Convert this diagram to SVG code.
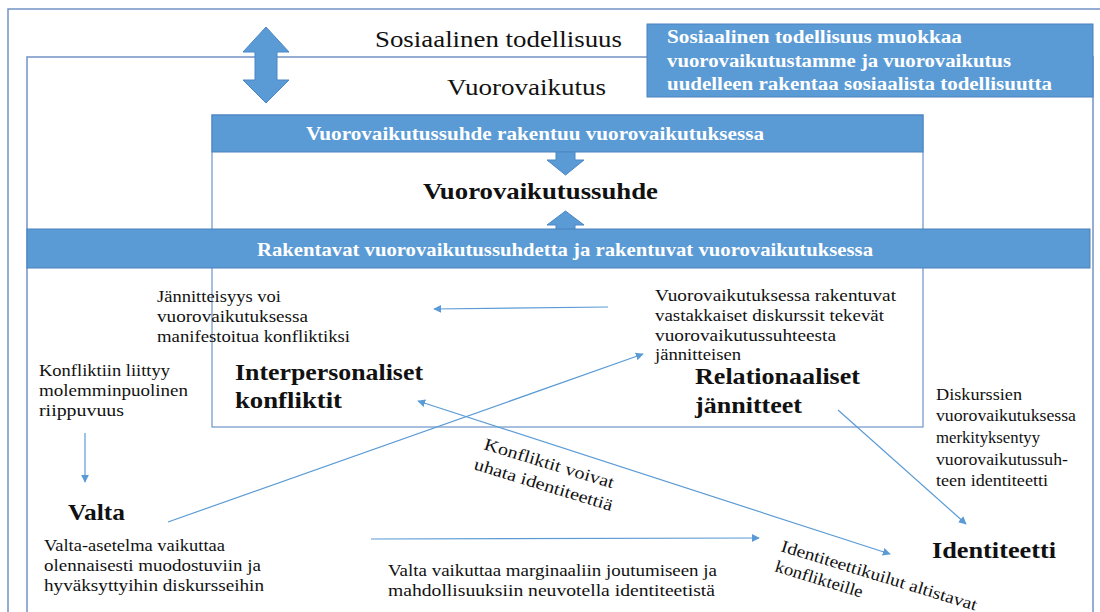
<svg xmlns="http://www.w3.org/2000/svg" width="1100" height="612" viewBox="0 0 1100 612">
<style>
.frame{fill:none;stroke:#7393c4;stroke-width:1.5}
.box{fill:#fff;stroke:#6f93c8;stroke-width:1.2}
.bar{fill:#5b9bd5;stroke:#4a82bd;stroke-width:1}
.blk{fill:#5b9bd5;stroke:#4a86c5;stroke-width:1}
.t{font-family:"Liberation Serif",serif;fill:#111}
.body{font-size:17px}
.big{font-size:23px}
.head{font-size:24px;font-weight:bold}
.wt{font-family:"Liberation Serif",serif;fill:#fff;font-weight:bold}
.conn line{stroke:#5b9bd5;stroke-width:1.2;fill:none}
</style>
<defs>
<marker id="ah" viewBox="0 0 10 10" refX="9" refY="5" markerWidth="8" markerHeight="8" markerUnits="userSpaceOnUse" orient="auto-start-reverse">
<path d="M0,0 L10,5 L0,10 z" fill="#5b9bd5"/>
</marker>
</defs>
<rect width="1100" height="612" fill="#fff"/>

<g id="outer-frame">
<rect class="frame" x="8" y="9" width="1110" height="620"/>
</g>
<g id="vuorovaikutus-frame">
<rect class="frame" x="27" y="57" width="1066" height="600"/>
</g>

<g id="double-arrow">
<polygon class="blk" points="266,27 289,52 277,52 277,80 289,80 266,103 243,80 255,80 255,52 243,52"/>
</g>

<g id="sosiaalinen">
<text class="t big" x="375" y="47" textLength="247" lengthAdjust="spacingAndGlyphs">Sosiaalinen todellisuus</text>
</g>
<g id="vuorovaikutus">
<text class="t big" x="447" y="95" textLength="159" lengthAdjust="spacingAndGlyphs">Vuorovaikutus</text>
</g>

<g id="info-box">
<rect class="bar" x="647" y="24" width="446" height="73"/>
<text class="wt" font-size="18" x="667" y="43" textLength="295" lengthAdjust="spacingAndGlyphs">Sosiaalinen todellisuus muokkaa</text>
<text class="wt" font-size="18" x="667" y="67" textLength="344" lengthAdjust="spacingAndGlyphs">vuorovaikutustamme ja vuorovaikutus</text>
<text class="wt" font-size="18" x="667" y="90" textLength="385" lengthAdjust="spacingAndGlyphs">uudelleen rakentaa sosiaalista todellisuutta</text>
</g>

<g id="suhde-box">
<rect class="box" x="212" y="115" width="711" height="312"/>
</g>

<g id="bar-top">
<rect class="bar" x="212" y="115" width="711" height="37"/>
<text class="wt" font-size="19" x="306" y="140" textLength="458" lengthAdjust="spacingAndGlyphs">Vuorovaikutussuhde rakentuu vuorovaikutuksessa</text>
</g>

<g id="down-arrow">
<polygon class="blk" points="556,152 575,152 575,160 584,160 565.5,175 547,160 556,160"/>
</g>

<g id="vuorovaikutussuhde">
<text class="t head" x="423" y="199" textLength="235" lengthAdjust="spacingAndGlyphs">Vuorovaikutussuhde</text>
</g>

<g id="up-arrow">
<polygon class="blk" points="565.5,211 584,225 575,225 575,230 556,230 556,225 547,225"/>
</g>

<g id="bar-bottom">
<rect class="bar" x="27" y="229" width="1063" height="39"/>
<text class="wt" font-size="19" x="257" y="256" textLength="616" lengthAdjust="spacingAndGlyphs">Rakentavat vuorovaikutussuhdetta ja rakentuvat vuorovaikutuksessa</text>
</g>

<g id="jannitteisyys">
<text class="t body" x="157" y="302" textLength="124" lengthAdjust="spacingAndGlyphs">Jännitteisyys voi</text>
<text class="t body" x="157" y="322" textLength="151" lengthAdjust="spacingAndGlyphs">vuorovaikutuksessa</text>
<text class="t body" x="157" y="342" textLength="193" lengthAdjust="spacingAndGlyphs">manifestoitua konfliktiksi</text>
</g>

<g id="vastakkaiset">
<text class="t body" x="655" y="301" textLength="241" lengthAdjust="spacingAndGlyphs">Vuorovaikutuksessa rakentuvat</text>
<text class="t body" x="655" y="321" textLength="229" lengthAdjust="spacingAndGlyphs">vastakkaiset diskurssit tekevät</text>
<text class="t body" x="655" y="341" textLength="181" lengthAdjust="spacingAndGlyphs">vuorovaikutussuhteesta</text>
<text class="t body" x="655" y="360" textLength="86" lengthAdjust="spacingAndGlyphs">jännitteisen</text>
</g>

<g id="riippuvuus">
<text class="t body" x="39" y="376" textLength="131" lengthAdjust="spacingAndGlyphs">Konfliktiin liittyy</text>
<text class="t body" x="39" y="396" textLength="149" lengthAdjust="spacingAndGlyphs">molemminpuolinen</text>
<text class="t body" x="39" y="416" textLength="85" lengthAdjust="spacingAndGlyphs">riippuvuus</text>
</g>

<g id="interpersonaliset">
<text class="t head" x="235" y="380" textLength="188" lengthAdjust="spacingAndGlyphs">Interpersonaliset</text>
<text class="t head" x="235" y="408" textLength="107" lengthAdjust="spacingAndGlyphs">konfliktit</text>
</g>

<g id="relationaaliset">
<text class="t head" x="695" y="384" textLength="165" lengthAdjust="spacingAndGlyphs">Relationaaliset</text>
<text class="t head" x="695" y="413" textLength="107" lengthAdjust="spacingAndGlyphs">jännitteet</text>
</g>

<g id="diskurssien">
<text class="t body" x="936" y="400" textLength="86" lengthAdjust="spacingAndGlyphs">Diskurssien</text>
<text class="t body" x="936" y="421" textLength="140" lengthAdjust="spacingAndGlyphs">vuorovaikutuksessa</text>
<text class="t body" x="936" y="443" textLength="104" lengthAdjust="spacingAndGlyphs">merkityksentyy</text>
<text class="t body" x="936" y="465" textLength="132" lengthAdjust="spacingAndGlyphs">vuorovaikutussuh-</text>
<text class="t body" x="936" y="486" textLength="112" lengthAdjust="spacingAndGlyphs">teen identiteetti</text>
</g>

<g id="valta">
<text class="t head" x="68" y="520" textLength="57" lengthAdjust="spacingAndGlyphs">Valta</text>
</g>

<g id="valta-asetelma">
<text class="t body" x="44" y="551" textLength="181" lengthAdjust="spacingAndGlyphs">Valta-asetelma vaikuttaa</text>
<text class="t body" x="44" y="571" textLength="217" lengthAdjust="spacingAndGlyphs">olennaisesti muodostuviin ja</text>
<text class="t body" x="44" y="591" textLength="220" lengthAdjust="spacingAndGlyphs">hyväksyttyihin diskursseihin</text>
</g>

<g id="marginaali">
<text class="t body" x="388" y="576" textLength="329" lengthAdjust="spacingAndGlyphs">Valta vaikuttaa marginaaliin joutumiseen ja</text>
<text class="t body" x="388" y="596" textLength="327" lengthAdjust="spacingAndGlyphs">mahdollisuuksiin neuvotella identiteetistä</text>
</g>

<g id="konfliktit-uhata">
<text class="t body" transform="translate(483,449) rotate(17)" textLength="135" lengthAdjust="spacingAndGlyphs">Konfliktit voivat</text>
<text class="t body" transform="translate(473,469) rotate(17)" textLength="144" lengthAdjust="spacingAndGlyphs">uhata identiteettiä</text>
</g>

<g id="identiteettikuilut">
<text class="t body" transform="translate(780,551) rotate(17)" textLength="204" lengthAdjust="spacingAndGlyphs">Identiteettikuilut altistavat</text>
<text class="t body" transform="translate(774,571) rotate(17)" textLength="91" lengthAdjust="spacingAndGlyphs">konflikteille</text>
</g>

<g id="identiteetti">
<text class="t head" x="932" y="558" textLength="124" lengthAdjust="spacingAndGlyphs">Identiteetti</text>
</g>

<g id="connectors" class="conn">
<line x1="608" y1="307" x2="434" y2="309" marker-end="url(#ah)"/>
<line x1="85" y1="433" x2="85" y2="482" marker-end="url(#ah)"/>
<line x1="168" y1="522" x2="643" y2="354" marker-end="url(#ah)"/>
<line x1="418" y1="401" x2="890" y2="554" marker-start="url(#ah)" marker-end="url(#ah)"/>
<line x1="371" y1="539" x2="759" y2="538" marker-end="url(#ah)"/>
<line x1="838" y1="410" x2="966" y2="524" marker-end="url(#ah)"/>
</g>
</svg>
